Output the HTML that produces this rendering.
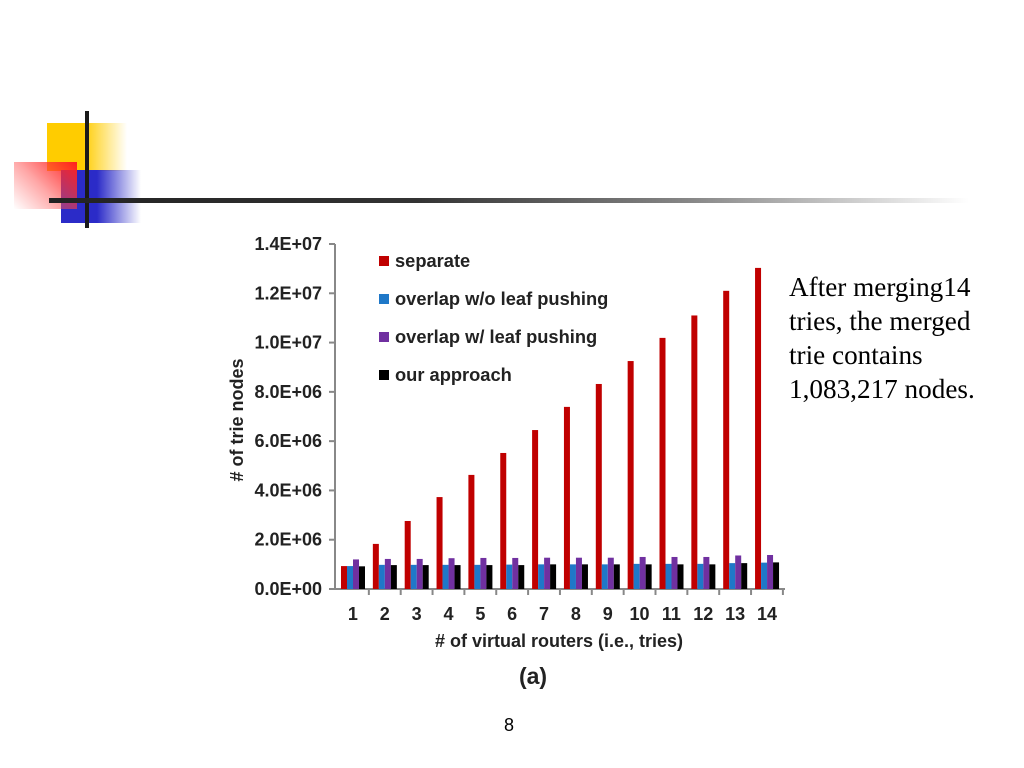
<!DOCTYPE html>
<html><head><meta charset="utf-8"><style>
html,body{margin:0;padding:0;background:#fff;width:1024px;height:768px;overflow:hidden;position:relative;font-family:"Liberation Sans",sans-serif}
.abs{position:absolute}
</style></head><body>
<div class="abs" style="left:0;top:0;width:1024px;height:240px">
 <div class="abs" style="left:47px;top:123px;width:80px;height:48px;background:linear-gradient(90deg,#ffcc00 0,#ffcc00 45%,rgba(255,204,0,0) 100%)"></div>
 <div class="abs" style="left:61px;top:170px;width:80px;height:53px;background:linear-gradient(90deg,#2b2bc8 0,#2b2bc8 45%,rgba(43,43,200,0) 100%)"></div>
 <div class="abs" style="left:14px;top:162px;width:63px;height:47px;background:linear-gradient(225deg,#ff2020 0,rgba(255,80,80,0.5) 55%,rgba(255,255,255,0) 100%)"></div>
 <div class="abs" style="left:85px;top:111px;width:4px;height:117px;background:#1a1a1a"></div>
 <div class="abs" style="left:49px;top:198px;width:920px;height:5px;background:linear-gradient(90deg,#222 0,#333 40%,#888 70%,rgba(255,255,255,0) 100%)"></div>
</div>
<svg class="abs" style="left:0;top:0" width="1024" height="768">
<g id="g"></g>
</svg>
<div class="abs" style="left:789px;top:270px;font-family:'Liberation Serif',serif;font-size:27.2px;line-height:34px;color:#000;white-space:nowrap">After merging14<br>tries, the merged<br>trie contains<br>1,083,217 nodes.</div>
<div class="abs" style="left:504px;top:715px;font-size:18px">8</div>
<script>
const categories=["1","2","3","4","5","6","7","8","9","10","11","12","13","14"];
const separate=[0.93,1.83,2.76,3.73,4.63,5.52,6.45,7.39,8.32,9.25,10.19,11.1,12.1,13.03];
const overlapNoLeaf=[0.93,0.98,0.98,0.98,0.98,0.99,1.0,1.0,1.0,1.02,1.02,1.02,1.05,1.07];
const overlapLeaf=[1.2,1.22,1.22,1.25,1.26,1.26,1.27,1.27,1.27,1.3,1.3,1.3,1.36,1.38];
const ourApproach=[0.92,0.97,0.97,0.97,0.97,0.97,1.0,1.0,1.0,1.0,1.0,1.0,1.05,1.08];
const yTicks=["0.0E+00","2.0E+06","4.0E+06","6.0E+06","8.0E+06","1.0E+07","1.2E+07","1.4E+07"];
const seriesNames=["separate","overlap w/o leaf pushing","overlap w/ leaf pushing","our approach"];
const colors=["#c00000","#1f78c8","#7030a0","#000000"];
const NS="http://www.w3.org/2000/svg";
const g=document.getElementById('g');
const y0=589,yTop=244,yMax=14;
const ys=v=>y0-(v/yMax)*(y0-yTop);
const x0=337,gw=31.85;
const xs=i=>x0+i*gw;
function mk(t,a,txt){const e=document.createElementNS(NS,t);for(const k in a)e.setAttribute(k,a[k]);if(txt!=null)e.textContent=txt;g.appendChild(e);return e;}
const ax=mk('path',{d:`M335 ${yTop}V${y0}H785`,stroke:'#888',fill:'none','stroke-width':2});

yTicks.forEach((t,i)=>{const y=ys(i*2);
 const l=mk('line',{x1:329,x2:335,y1:y,y2:y,stroke:'#888','stroke-width':2});
 
 const tx=mk('text',{x:322,y:y+6,'text-anchor':'end','font-size':18,'font-weight':'bold',fill:'#222'},t);
 });
const series=[separate,overlapNoLeaf,overlapLeaf,ourApproach];
categories.forEach((c,i)=>{
 const l=mk('line',{x1:xs(i+1),x2:xs(i+1),y1:y0,y2:y0+6,stroke:'#888','stroke-width':2});
 
 const tx=mk('text',{x:xs(i)+gw/2,y:620,'text-anchor':'middle','font-size':18,'font-weight':'bold',fill:'#222'},c);
 
 series.forEach((s,k)=>{const y=ys(s[i]);
  const r=mk('rect',{x:xs(i)+4+k*6,y:y,width:6,height:y0-y,fill:colors[k]});
  });
});
seriesNames.forEach((n,k)=>{const y=261+k*38;
 const r=mk('rect',{x:379,y:y-5,width:10,height:10,fill:colors[k]});
 
 const t=mk('text',{x:395,y:y+6,'font-size':18.3,'font-weight':'bold',fill:'#222'},n);
 });
const xt=mk('text',{x:559,y:647,'text-anchor':'middle','font-size':18,'font-weight':'bold',fill:'#222'},'# of virtual routers (i.e., tries)');

const yt=mk('text',{x:0,y:0,'text-anchor':'middle','font-size':18,'font-weight':'bold',fill:'#222',transform:'translate(243,420) rotate(-90)'},'# of trie nodes');

const cap=mk('text',{x:533,y:684,'text-anchor':'middle','font-size':23,'font-weight':'bold',fill:'#222'},'(a)');

</script>
</body></html>
